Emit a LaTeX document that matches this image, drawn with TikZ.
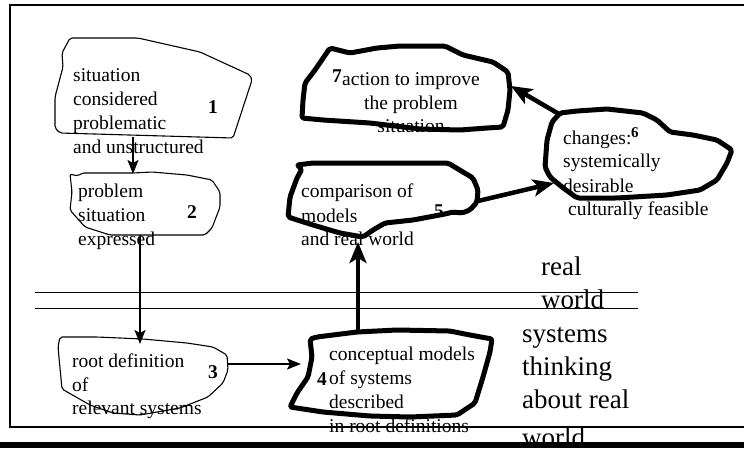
\documentclass[tikz,border=0pt]{standalone}
\usepackage{fontspec}
\setmainfont{Liberation Serif}
\usetikzlibrary{arrows.meta}
\begin{document}
\begin{tikzpicture}[x=1pt,y=-1pt,
  thinblob/.style={draw,line width=1.1pt,line join=round,rounded corners=2pt},
  thickblob/.style={draw,line width=5pt,line join=round,rounded corners=2pt},
  txt/.style={anchor=base west,inner sep=0pt,font=\fontsize{19.5}{24}\selectfont},
  ctxt/.style={anchor=base,inner sep=0pt,font=\fontsize{19.5}{24}\selectfont},
  num/.style={anchor=base west,inner sep=0pt,font=\fontsize{19.5}{24}\selectfont\bfseries},
  bigtxt/.style={anchor=base west,inner sep=0pt,font=\fontsize{27}{33}\selectfont},
  thinarrow/.style={line width=2pt,-{Stealth[length=14pt,width=11pt,inset=3pt]}},
  thickarrow/.style={line width=4.5pt,-{Stealth[length=21pt,width=17pt,inset=5pt]}},
]
\useasboundingbox (0,0) rectangle (744,448);

% ---- texts of the seven stages ----
\node[txt] (s1a) at (73,81)  {situation};
\node[txt] (s1b) at (73,105) {considered};
\node[txt] (s1c) at (73,129) {problematic};
\node[txt] (s1d) at (73,153) {and unstructured};
\node[num] (n1)  at (208,113) {1};

\node[txt] (s2a) at (78,197) {problem};
\node[txt] (s2b) at (78,221) {situation};
\node[txt] (s2c) at (78,245) {expressed};
\node[num] (n2)  at (187,218) {2};

\node[txt] (s3a) at (72,367) {root definition};
\node[txt] (s3b) at (72,391) {of};
\node[txt] (s3c) at (72,414) {relevant systems};
\node[num] (n3)  at (208,378) {3};

\node[txt] (s4a) at (329,360) {conceptual models};
\node[txt] (s4b) at (329,384) {of systems};
\node[txt] (s4c) at (329,408) {described};
\node[txt] (s4d) at (329,432) {in root definitions};
\node[num] (n4)  at (317,385) {4};

\node[txt] (s5a) at (301,197) {comparison of};
\node[txt] (s5b) at (301,222) {models};
\node[txt] (s5c) at (301,245) {and real world};
\node[num] (n5)  at (434,217) {5};

\node[txt] (s6a) at (563,144) {changes:};
\node[txt] (s6b) at (563,167) {systemically};
\node[txt] (s6c) at (563,192) {desirable};
\node[txt] (s6d) at (568,215) {culturally feasible};
\node[anchor=base west,inner sep=0pt,font=\fontsize{15}{18}\selectfont\bfseries] (n6) at (631,137) {6};

\node[ctxt] (s7a) at (411,85)  {action to improve};
\node[ctxt] (s7b) at (411,109) {the problem};
\node[ctxt] (s7c) at (411,132) {situation};
\node[num] (n7)  at (332,82) {7};

% ---- side labels ----
\node[bigtxt] (rw1) at (541,275) {real};
\node[bigtxt] (rw2) at (541,308) {world};
\node[bigtxt] (st1) at (522,342) {systems};
\node[bigtxt] (st2) at (522,375) {thinking};
\node[bigtxt] (st3) at (522,408) {about real};
\node[bigtxt] (st4) at (522,446) {world};

% ---- frame and the dividing double line ----
\draw[line width=2pt] (744,5) -- (10,5) -- (10,427) -- (744,427);
\draw[line width=1pt] (35,292) -- (638,292);
\draw[line width=1pt] (35,308) -- (638,308);

% ---- stage outlines ----
\draw[thinblob] (70,38) -- (138,38) -- (200,52) -- (250,75) -- (252,80) -- (233,138)
  -- (60,133) -- (55,128) -- (55,97) -- (63,67) -- (62,53) -- cycle;
\draw[thinblob] (70,174) -- (78,176) -- (82,173) -- (133,173) -- (152,172) -- (187,175)
  -- (212,180) -- (220,192) -- (220,207) -- (212,228) -- (205,235) -- (110,235)
  -- (85,227) -- (70,210) -- (72,192) -- cycle;
\draw[thinblob] (60,337) -- (97,337) -- (143,339) -- (187,343) -- (213,347) -- (227,355)
  -- (228,370) -- (223,383) -- (208,397) -- (180,408) -- (140,415) -- (113,413)
  -- (90,405) -- (62,389) -- (58,347) -- cycle;
\draw[thickblob] (310,339) -- (317,337) -- (357,332) -- (397,330) -- (450,331) -- (470,335)
  -- (492,339) -- (490,352) -- (483,377) -- (475,403) -- (457,415) -- (410,417)
  -- (370,416) -- (323,412) -- (290,407) -- (297,393) -- (308,377) -- (312,357) -- cycle;
\draw[thickblob] (297,165) -- (313,163) -- (400,163) -- (448,163) -- (463,172) -- (473,178)
  -- (478,190) -- (477,202) -- (470,210) -- (462,213) -- (453,212) -- (445,214)
  -- (413,220) -- (385,223) -- (373,230) -- (363,237) -- (340,233) -- (313,225)
  -- (288,217) -- (290,197) -- (297,178) -- (302,169) -- cycle;
\draw[thickblob] (560,113) -- (577,111) -- (607,109) -- (643,113) -- (657,120) -- (670,132)
  -- (693,135) -- (717,140) -- (732,150) -- (727,163) -- (717,180) -- (700,190)
  -- (667,195) -- (617,198) -- (577,198) -- (562,187) -- (550,177) -- (545,167)
  -- (547,140) -- (552,122) -- cycle;
\draw[thickblob] (330,48) -- (350,53) -- (377,48) -- (400,46) -- (445,46) -- (463,55)
  -- (493,62) -- (508,72) -- (510,90) -- (508,110) -- (503,127) -- (487,128)
  -- (460,130) -- (420,129) -- (370,123) -- (323,120) -- (302,118) -- (303,100)
  -- (305,83) -- (315,70) -- cycle;

% ---- connector ends ----
\coordinate (o1) at (133,137);  \coordinate (i2) at (133,174);
\coordinate (o2) at (140,235);  \coordinate (i3) at (140,344);
\coordinate (o3) at (228,364);  \coordinate (i4) at (301,364);
\coordinate (o4) at (358,332);  \coordinate (i5) at (358,242);
\coordinate (o5) at (478,201);  \coordinate (i6) at (554,183);
\coordinate (o6) at (559,114);  \coordinate (i7) at (511,86);

\draw[thinarrow]  (o1) -- (i2);
\draw[thinarrow]  (o2) -- (i3);
\draw[thinarrow]  (o3) -- (i4);
\draw[thickarrow] (o4) -- (i5);
\draw[thickarrow] (o5) -- (i6);
\draw[thickarrow] (o6) -- (i7);

% ---- dark strip along the bottom ----
\fill (0,442) rectangle (744,448);
\end{tikzpicture}
\end{document}
